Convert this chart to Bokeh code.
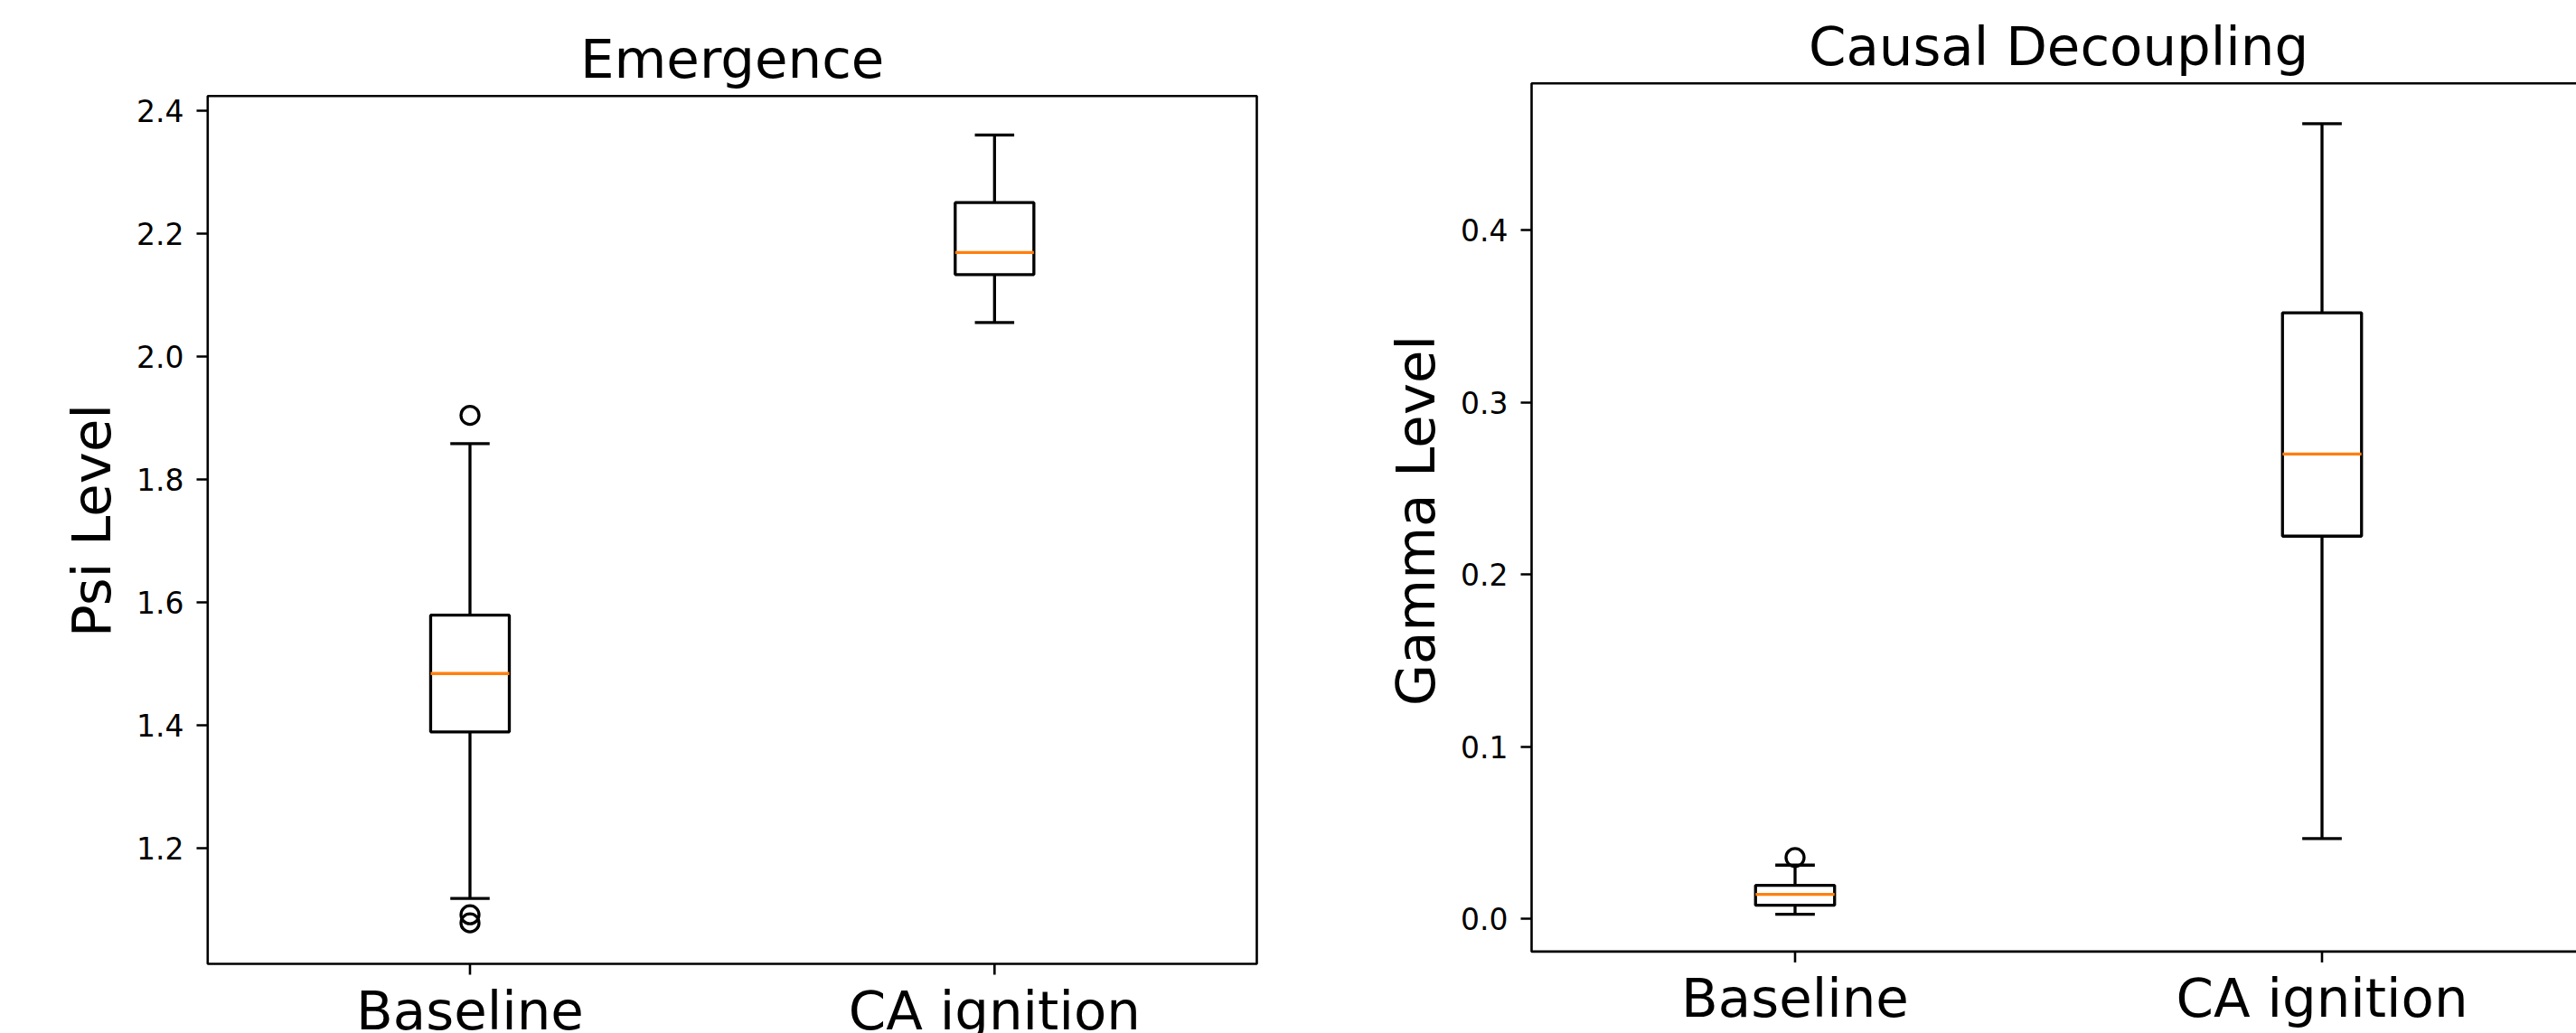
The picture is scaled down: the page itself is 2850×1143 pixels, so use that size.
from bokeh.plotting import figure
from bokeh.layouts import row
from bokeh.models import FixedTicker
from bokeh.core.properties import value
from bokeh.embed import file_html
from bokeh.resources import INLINE

# ---------------- data ----------------
categories = ["Baseline", "CA ignition"]

psi_whisker_low = [1.118, 2.055]
psi_q1 = [1.389, 2.133]
psi_median = [1.484, 2.169]
psi_q3 = [1.579, 2.250]
psi_whisker_high = [1.858, 2.360]
psi_outliers = [[1.904, 1.0915, 1.0784], []]
psi_ylim = (1.0117, 2.4235)

gamma_whisker_low = [0.0028, 0.0467]
gamma_q1 = [0.0080, 0.2223]
gamma_median = [0.0143, 0.2700]
gamma_q3 = [0.0196, 0.3520]
gamma_whisker_high = [0.0313, 0.4618]
gamma_outliers = [[0.0357], []]
gamma_ylim = (-0.0189, 0.4852)

psi_ticks = [1.2, 1.4, 1.6, 1.8, 2.0, 2.2, 2.4]
psi_tick_labels = ["1.2", "1.4", "1.6", "1.8", "2.0", "2.2", "2.4"]
gamma_ticks = [0.0, 0.1, 0.2, 0.3, 0.4]
gamma_tick_labels = ["0.0", "0.1", "0.2", "0.3", "0.4"]

xlim = (0.5, 2.5)

FONT = "DejaVu Sans"
ORANGE = "#ff7f0e"
LW = 3.3
SPINE = 2.6
BIG = "59.4px"
SMALL = "33px"
CANVAS_H = 1143
TOP_PAD = 8
TEXT_SHIFT = 20   # px correction of glyph-text baseline placement


def make_panel(title, ylabel, lows, q1, med, q3, highs, outliers, ticks, tick_labels, ylim,
               canvas_x0, canvas_w, box_px, title_baseline_px):
    # box_px: (left, right, top, bottom) page pixels of the axes box
    bl, br, bt, bb = box_px
    frame_l = int(round(bl - 4))
    frame_r = canvas_x0 + canvas_w
    frame_t = TOP_PAD
    frame_b = CANVAS_H
    xs = (xlim[1] - xlim[0]) / (br - bl)          # data per px (x)
    ys = (ylim[1] - ylim[0]) / (bb - bt)          # data per px (y)
    x_range = (xlim[0] - (bl - frame_l) * xs, xlim[1] + (frame_r - br) * xs)
    y_range = (ylim[0] - (frame_b - bb) * ys, ylim[1] + (bt - frame_t) * ys)

    p = figure(width=canvas_w, height=CANVAS_H, output_backend="svg", toolbar_location=None,
               x_range=x_range, y_range=y_range, x_axis_location=None, title_location=None,
               min_border_left=int(frame_l - canvas_x0), min_border_right=0,
               min_border_top=TOP_PAD, min_border_bottom=0,
               background_fill_color="white", border_fill_color="white",
               outline_line_color=None)
    p.grid.visible = False

    positions = [i + 1 for i in range(len(categories))]
    bw = 0.15
    cw = bw / 2

    # axes box (right edge falls outside the canvas for the right panel)
    p.quad(left=[xlim[0]], right=[xlim[1]], bottom=[ylim[0]], top=[ylim[1]],
           fill_color=None, line_color="black", line_width=SPINE)
    # x ticks
    p.segment(x0=positions, y0=[ylim[0]] * 2, x1=positions, y1=[ylim[0] - 12 * ys] * 2,
              line_color="black", line_width=SPINE)

    # whiskers
    p.segment(x0=positions, y0=q3, x1=positions, y1=highs, line_color="black", line_width=LW)
    p.segment(x0=positions, y0=q1, x1=positions, y1=lows, line_color="black", line_width=LW)
    # caps
    p.segment(x0=[x - cw / 2 for x in positions], y0=highs,
              x1=[x + cw / 2 for x in positions], y1=highs, line_color="black", line_width=LW)
    p.segment(x0=[x - cw / 2 for x in positions], y0=lows,
              x1=[x + cw / 2 for x in positions], y1=lows, line_color="black", line_width=LW)
    # boxes
    p.vbar(x=positions, width=bw, top=q3, bottom=q1, fill_color="white",
           line_color="black", line_width=LW)
    # medians
    p.segment(x0=[x - bw / 2 for x in positions], y0=med,
              x1=[x + bw / 2 for x in positions], y1=med, line_color=ORANGE, line_width=LW)
    # outliers
    ox, oy = [], []
    for x, vals in zip(positions, outliers):
        for v in vals:
            ox.append(x)
            oy.append(v)
    if ox:
        p.scatter(x=ox, y=oy, marker="circle", size=20, fill_color=None,
                  line_color="black", line_width=LW)

    # category labels below the axes box
    p.text(x=positions, y=[ylim[0] - (71.5 - TEXT_SHIFT) * ys] * len(positions), text=categories,
           text_align="center", text_baseline="alphabetic",
           text_font=value(FONT), text_font_size=value(BIG), text_color="black")
    # panel title above the axes box
    p.text(x=[(xlim[0] + xlim[1]) / 2],
           y=[ylim[1] + (bt - title_baseline_px + TEXT_SHIFT) * ys], text=[title],
           text_align="center", text_baseline="alphabetic",
           text_font=value(FONT), text_font_size=value(BIG), text_color="black")

    # y axis
    ax = p.yaxis[0]
    ax.ticker = FixedTicker(ticks=ticks)
    ax.major_label_overrides = {t: l for t, l in zip(ticks, tick_labels)}
    ax.major_label_text_font = FONT
    ax.major_label_text_font_size = SMALL
    ax.major_label_text_color = "black"
    ax.major_label_standoff = 14
    ax.axis_label = ylabel
    ax.axis_label_text_font = FONT
    ax.axis_label_text_font_size = BIG
    ax.axis_label_text_font_style = "normal"
    ax.axis_label_text_color = "black"
    ax.axis_label_standoff = 12
    ax.axis_line_color = None
    ax.major_tick_in = 4
    ax.major_tick_out = 8
    ax.major_tick_line_width = SPINE
    ax.major_tick_line_color = "black"
    ax.minor_tick_line_color = None
    return p


left = make_panel("Emergence", "Psi Level", psi_whisker_low, psi_q1, psi_median, psi_q3,
                  psi_whisker_high, psi_outliers, psi_ticks, psi_tick_labels, psi_ylim,
                  canvas_x0=0, canvas_w=1510, box_px=(229.3, 1390.0, 105.7, 1066.0),
                  title_baseline_px=85)

right = make_panel("Causal Decoupling", "Gamma Level", gamma_whisker_low, gamma_q1, gamma_median,
                   gamma_q3, gamma_whisker_high, gamma_outliers, gamma_ticks, gamma_tick_labels,
                   gamma_ylim, canvas_x0=1510, canvas_w=1340,
                   box_px=(1694.0, 2860.0, 91.7, 1052.4), title_baseline_px=71)

layout = row(left, right)
open("out.html", "w").write(file_html(layout, INLINE))
